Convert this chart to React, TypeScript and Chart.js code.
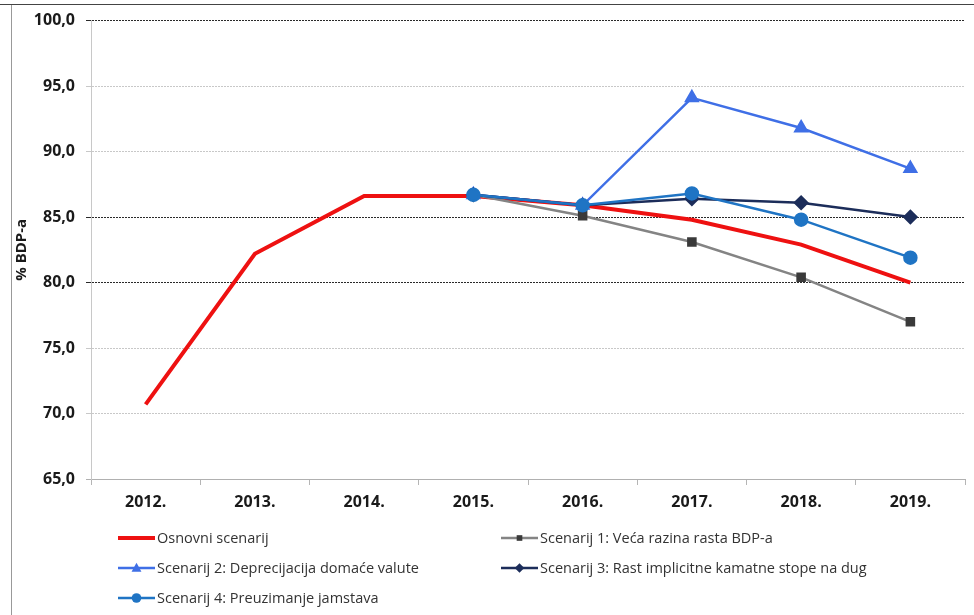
import React, { useEffect, useRef } from "react";
import { Chart, registerables } from "chart.js";
Chart.register(...registerables);

const categories = ["2012.", "2013.", "2014.", "2015.", "2016.", "2017.", "2018.", "2019."];
const osnovni = [70.7, 82.2, 86.6, 86.6, 85.9, 84.8, 82.9, 80.0];
const scenarij1 = [null, null, null, 86.7, 85.1, 83.1, 80.4, 77.0];
const scenarij2 = [null, null, null, 86.7, 85.9, 94.1, 91.8, 88.7];
const scenarij3 = [null, null, null, 86.7, 85.9, 86.4, 86.1, 85.0];
const scenarij4 = [null, null, null, 86.7, 85.9, 86.8, 84.8, 81.9];
const seriesNames = [
  "Osnovni scenarij",
  "Scenarij 1: Veća razina rasta BDP-a",
  "Scenarij 2: Deprecijacija domaće valute",
  "Scenarij 3: Rast implicitne kamatne stope na dug",
  "Scenarij 4: Preuzimanje jamstava",
];
const yMin = 65;
const yMax = 100;
const yStep = 5;
const darkGridValues = [100, 85, 80];
const yTitle = "% BDP-a";

const FONT = '"Open Sans", "DejaVu Sans", sans-serif';

function drawMarker(ctx: CanvasRenderingContext2D, style: string, x: number, y: number, r: number) {
  ctx.beginPath();
  if (style === "rect") {
    const s = r * Math.SQRT1_2;
    ctx.rect(x - s, y - s, 2 * s, 2 * s);
  } else if (style === "triangle") {
    ctx.moveTo(x, y - r);
    ctx.lineTo(x + r * 0.95, y + r * 0.7);
    ctx.lineTo(x - r * 0.95, y + r * 0.7);
    ctx.closePath();
  } else if (style === "rectRot") {
    ctx.moveTo(x, y - r);
    ctx.lineTo(x + r, y);
    ctx.lineTo(x, y + r);
    ctx.lineTo(x - r, y);
    ctx.closePath();
  } else {
    ctx.arc(x, y, r, 0, Math.PI * 2);
  }
  ctx.fill();
}

const legendPlugin = {
  id: "customLegend",
  afterDraw(chart: any) {
    const ctx: CanvasRenderingContext2D = chart.ctx;
    chart.data.datasets.forEach((ds: any, i: number) => {
      const col = i % 2;
      const row = Math.floor(i / 2);
      const x0 = col === 0 ? 118 : 501;
      const y = 538 + row * 30;
      ctx.save();
      ctx.strokeStyle = ds.borderColor;
      ctx.lineWidth = ds.legendLineWidth;
      ctx.beginPath();
      ctx.moveTo(x0, y);
      ctx.lineTo(x0 + 37, y);
      ctx.stroke();
      if (ds.pointRadius > 0) {
        ctx.fillStyle = ds.pointBackgroundColor;
        drawMarker(ctx, ds.pointStyle, x0 + 18.5, y, ds.pointRadius * 0.8);
      }
      ctx.fillStyle = "#333";
      ctx.font = `14.5px ${FONT}`;
      ctx.textBaseline = "middle";
      ctx.textAlign = "left";
      ctx.fillText(ds.label, x0 + 39, y + 1);
      ctx.restore();
    });
  },
};

export default function App() {
  const ref = useRef<HTMLCanvasElement>(null);
  useEffect(() => {
    if (!ref.current) return;
    const chart = new Chart(ref.current, {
      type: "line",
      data: {
        labels: categories,
        datasets: [
          {
            label: seriesNames[0],
            data: osnovni,
            borderColor: "#ee1111",
            backgroundColor: "#ee1111",
            borderWidth: 4,
            pointRadius: 0,
            legendLineWidth: 4,
            order: 5,
          } as any,
          {
            label: seriesNames[1],
            data: scenarij1,
            borderColor: "#848484",
            backgroundColor: "#3a3a3a",
            pointBackgroundColor: "#3a3a3a",
            pointBorderColor: "#3a3a3a",
            pointStyle: "rect",
            pointRadius: 5,
            borderWidth: 2.5,
            legendLineWidth: 2.5,
            order: 4,
          },
          {
            label: seriesNames[2],
            data: scenarij2,
            borderColor: "#3f6fe6",
            backgroundColor: "#3f6fe6",
            pointBackgroundColor: "#3f6fe6",
            pointBorderColor: "#3f6fe6",
            pointStyle: "triangle",
            pointRadius: 6.5,
            borderWidth: 2.5,
            legendLineWidth: 2.5,
            order: 3,
          },
          {
            label: seriesNames[3],
            data: scenarij3,
            borderColor: "#1c2d5a",
            backgroundColor: "#1c2d5a",
            pointBackgroundColor: "#1c2d5a",
            pointBorderColor: "#1c2d5a",
            pointStyle: "rectRot",
            pointRadius: 6,
            borderWidth: 2.5,
            legendLineWidth: 2.5,
            order: 2,
          },
          {
            label: seriesNames[4],
            data: scenarij4,
            borderColor: "#1f74c4",
            backgroundColor: "#1f74c4",
            pointBackgroundColor: "#1f74c4",
            pointBorderColor: "#1f74c4",
            pointStyle: "circle",
            pointRadius: 6,
            borderWidth: 2.5,
            legendLineWidth: 2.5,
            order: 1,
          },
        ] as any,
      },
      options: {
        animation: false,
        responsive: false,
        maintainAspectRatio: false,
        spanGaps: false,
        layout: { padding: { left: 12, right: 8, top: 17, bottom: 100 } },
        plugins: { legend: { display: false }, tooltip: { enabled: false } },
        elements: { line: { tension: 0 } },
        scales: {
          x: {
            offset: true,
            grid: {
              offset: true,
              drawOnChartArea: false,
              drawTicks: true,
              tickLength: 6,
              color: "#b5b5b5",
            },
            border: { color: "#b0b0b0", width: 1 },
            ticks: {
              padding: 8,
              color: "#1a1a1a",
              font: { family: FONT, size: 16, weight: "bold" },
              maxRotation: 0,
            },
            afterFit(scale: any) {
              scale.height = 36;
            },
          },
          y: {
            min: yMin,
            max: yMax,
            ticks: {
              stepSize: yStep,
              padding: 11,
              color: "#1a1a1a",
              font: { family: FONT, size: 16, weight: "bold" },
              callback: (v: any) => Number(v).toFixed(1).replace(".", ","),
            },
            grid: {
              drawTicks: true,
              tickLength: 5,
              color: (c: any) => {
                const v = c.tick ? c.tick.value : null;
                if (darkGridValues.includes(v)) return "#2a2a2a";
                if (v === yMin) return "#b0b0b0";
                return "#c8c8c8";
              },
              lineWidth: 1,
            },
            border: { color: "#c8c8c8", width: 1, dash: [2, 1] },
            title: {
              display: true,
              text: yTitle,
              color: "#1a1a1a",
              font: { family: FONT, size: 15, weight: "bold" },
              padding: { top: 1, bottom: 0 },
            },
            afterFit(scale: any) {
              scale.width = 79;
            },
          },
        },
      } as any,
      plugins: [legendPlugin],
    });
    return () => chart.destroy();
  }, []);

  return (
    <div style={{ position: "absolute", left: 0, top: 0, width: 974, height: 615, background: "#fff", overflow: "hidden" }}>
      <div style={{ position: "absolute", left: 0, top: 4, width: 974, height: 0, borderTop: "1.5px solid #444" }} />
      <div style={{ position: "absolute", left: 11, top: 5, width: 0, height: 610, borderLeft: "1px solid #999" }} />
      <canvas ref={ref} width={974} height={615} style={{ position: "absolute", left: 0, top: 0, width: 974, height: 615 }} />
    </div>
  );
}
